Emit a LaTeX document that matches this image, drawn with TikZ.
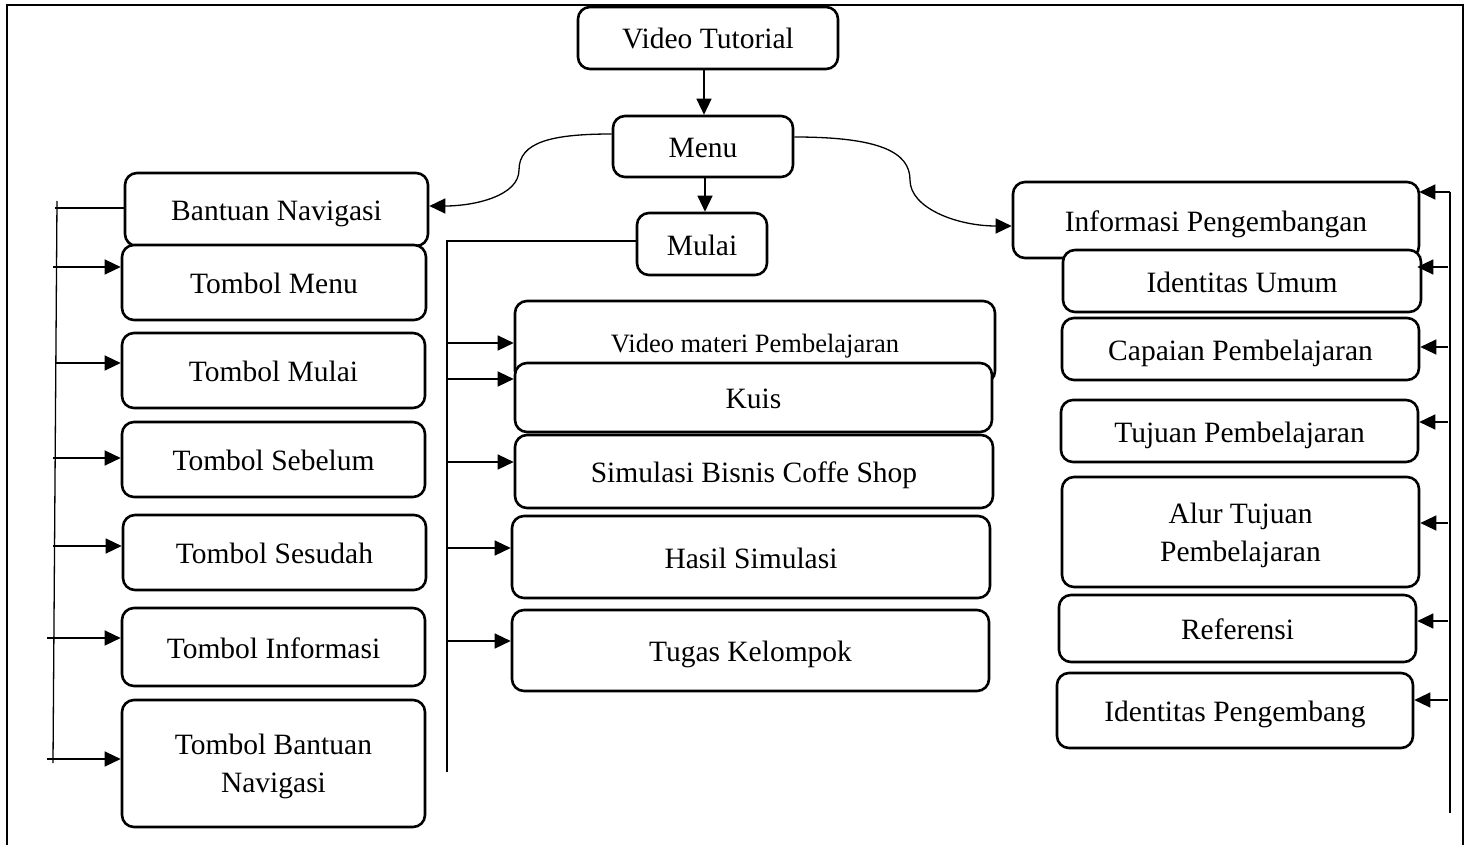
\documentclass[tikz,border=0pt]{standalone}
\usepackage{fontspec}
\setmainfont{Liberation Serif}
\usetikzlibrary{arrows.meta}
\tikzset{
  boxbase/.style={draw, line width=2.6pt, rounded corners=12pt, fill=white, inner sep=0pt, align=center, font=\fontsize{29.5}{38}\selectfont, text depth=0pt},
  box/.style={boxbase, text height=22pt},
  box2/.style={boxbase},
  conn/.style={line width=1.3pt},
  arr/.style={conn, -{Triangle[length=16pt,width=15pt]}},
}
\begin{document}
\begin{tikzpicture}[x=1pt,y=-1pt]
\useasboundingbox (0,0) rectangle (1469,845);
% frame
\draw[line width=2.6pt] (7,860) -- (7,5) -- (1463,5) -- (1463,860);

% top
\node[box, minimum width=260pt, minimum height=62pt] (vt) at (708,38) {Video Tutorial};
\node[box, minimum width=180pt, minimum height=61pt] (menu) at (703,146.5) {Menu};
\node[box, minimum width=130pt, minimum height=62pt] (mulai) at (702,244) {Mulai};

% left column
\node[box, minimum width=303pt, minimum height=73pt] (bn) at (276.5,209.5) {Bantuan Navigasi};
\node[box, minimum width=304pt, minimum height=75pt] (tm) at (274,282.5) {Tombol Menu};
\node[box, minimum width=303pt, minimum height=75pt] (tmu) at (273.5,370.5) {Tombol Mulai};
\node[box, minimum width=303pt, minimum height=75pt] (tsb) at (273.5,459.5) {Tombol Sebelum};
\node[box, minimum width=303pt, minimum height=75pt] (tsd) at (274.5,552.5) {Tombol Sesudah};
\node[box, minimum width=303pt, minimum height=78pt] (ti) at (273.5,647) {Tombol Informasi};
\node[box2, minimum width=303pt, minimum height=127pt] (tbn) at (273.5,763.5) {Tombol Bantuan\\Navigasi};

% middle column
\node[box, minimum width=480pt, minimum height=82pt, font=\fontsize{26.5}{32}\selectfont, text height=20pt] (vmp) at (755,342) {Video materi Pembelajaran};
\node[box, minimum width=477pt, minimum height=69pt] (kuis) at (753.5,397.5) {Kuis};
\node[box, minimum width=478pt, minimum height=73pt] (sim) at (754,471.5) {Simulasi Bisnis Coffe Shop};
\node[box, minimum width=478pt, minimum height=82pt] (hasil) at (751,557) {Hasil Simulasi};
\node[box, minimum width=477pt, minimum height=81pt] (tugas) at (750.5,650.5) {Tugas Kelompok};

% right column
\node[box, minimum width=406pt, minimum height=76pt] (ip) at (1216,220) {Informasi Pengembangan};
\node[box, minimum width=358pt, minimum height=62pt] (iu) at (1242,281) {Identitas Umum};
\node[box, minimum width=357pt, minimum height=62pt] (cp) at (1240.5,349) {Capaian Pembelajaran};
\node[box, minimum width=357pt, minimum height=62pt] (tp) at (1239.5,431) {Tujuan Pembelajaran};
\node[box2, minimum width=357pt, minimum height=110pt] (atp) at (1240.5,532) {Alur Tujuan\\Pembelajaran};
\node[box, minimum width=357pt, minimum height=67pt] (ref) at (1237.5,628.5) {Referensi};
\node[box, minimum width=356pt, minimum height=75pt] (idp) at (1235,710.5) {Identitas Pengembang};

% bus coordinates
\coordinate (lbtop) at (57,201);
\coordinate (lbbot) at (53,763);
\coordinate (lx) at (53,0);
\coordinate (lxw) at (47,0);
\coordinate (mbtop) at (447,241);
\coordinate (mbbot) at (447,772);
\coordinate (mx) at (447,0);
\coordinate (rbtop) at (1450,192);
\coordinate (rbbot) at (1450,813);
\coordinate (rx) at (1448,0);
\coordinate (cl) at (519,170);
\coordinate (cr) at (910,180);

% top connectors
\draw[arr] (vt.south -| 704,0) -- (menu.north -| 704,0);
\draw[arr] (menu.south -| 705,0) -- (mulai.north -| 705,0);
\draw[arr] ([yshift=12.5pt]menu.west) .. controls +(-60,0) and +(0,-28) .. (cl) .. controls +(0,26) and +(45,0) .. ([yshift=3.5pt]bn.east);
\draw[arr] ([yshift=9.5pt]menu.east) .. controls +(85,0) and +(0,-28) .. (cr) .. controls +(0,28) and +(-55,0) .. ([yshift=-6pt]ip.west);

% left bus
\draw[conn] (lbtop) -- (lbbot);
\draw[conn] ([yshift=1.5pt]bn.west) -- ([yshift=1.5pt]bn.west -| 55,0);
\draw[arr] ([yshift=15.5pt]tm.west -| lx) -- ([yshift=15.5pt]tm.west);
\draw[arr] ([yshift=7.5pt]tmu.west -| 56,0) -- ([yshift=7.5pt]tmu.west);
\draw[arr] ([yshift=1.5pt]tsb.west -| lx) -- ([yshift=1.5pt]tsb.west);
\draw[arr] ([yshift=6.5pt]tsd.west -| lx) -- ([yshift=6.5pt]tsd.west);
\draw[arr] ([yshift=9pt]ti.west -| lxw) -- ([yshift=9pt]ti.west);
\draw[arr] ([yshift=4.5pt]tbn.west -| lxw) -- ([yshift=4.5pt]tbn.west);

% middle bus
\draw[conn] ([yshift=3pt]mulai.west) -- (mbtop) -- (mbbot);
\draw[arr] ([yshift=-1pt]vmp.west -| mx) -- ([yshift=-1pt]vmp.west);
\draw[arr] ([yshift=18.5pt]kuis.west -| mx) -- ([yshift=18.5pt]kuis.west);
\draw[arr] ([yshift=9.5pt]sim.west -| mx) -- ([yshift=9.5pt]sim.west);
\draw[arr] ([yshift=9pt]hasil.west -| mx) -- ([yshift=9pt]hasil.west);
\draw[arr] ([yshift=9.5pt]tugas.west -| mx) -- ([yshift=9.5pt]tugas.west);

% right bus
\draw[conn] (rbbot) -- (rbtop);
\draw[arr] (rbtop) -- ([yshift=28pt,xshift=-1pt]ip.east);
\draw[arr] ([yshift=14pt]iu.east -| rx) -- ([yshift=14pt,xshift=-5pt]iu.east);
\draw[arr] ([yshift=2pt]cp.east -| rx) -- ([yshift=2pt]cp.east);
\draw[arr] ([yshift=9pt]tp.east -| rx) -- ([yshift=9pt]tp.east);
\draw[arr] ([yshift=9pt]atp.east -| rx) -- ([yshift=9pt]atp.east);
\draw[arr] ([yshift=7.5pt]ref.east -| rx) -- ([yshift=7.5pt]ref.east);
\draw[arr] ([yshift=10.5pt]idp.east -| rx) -- ([yshift=10.5pt]idp.east);
\end{tikzpicture}
\end{document}
